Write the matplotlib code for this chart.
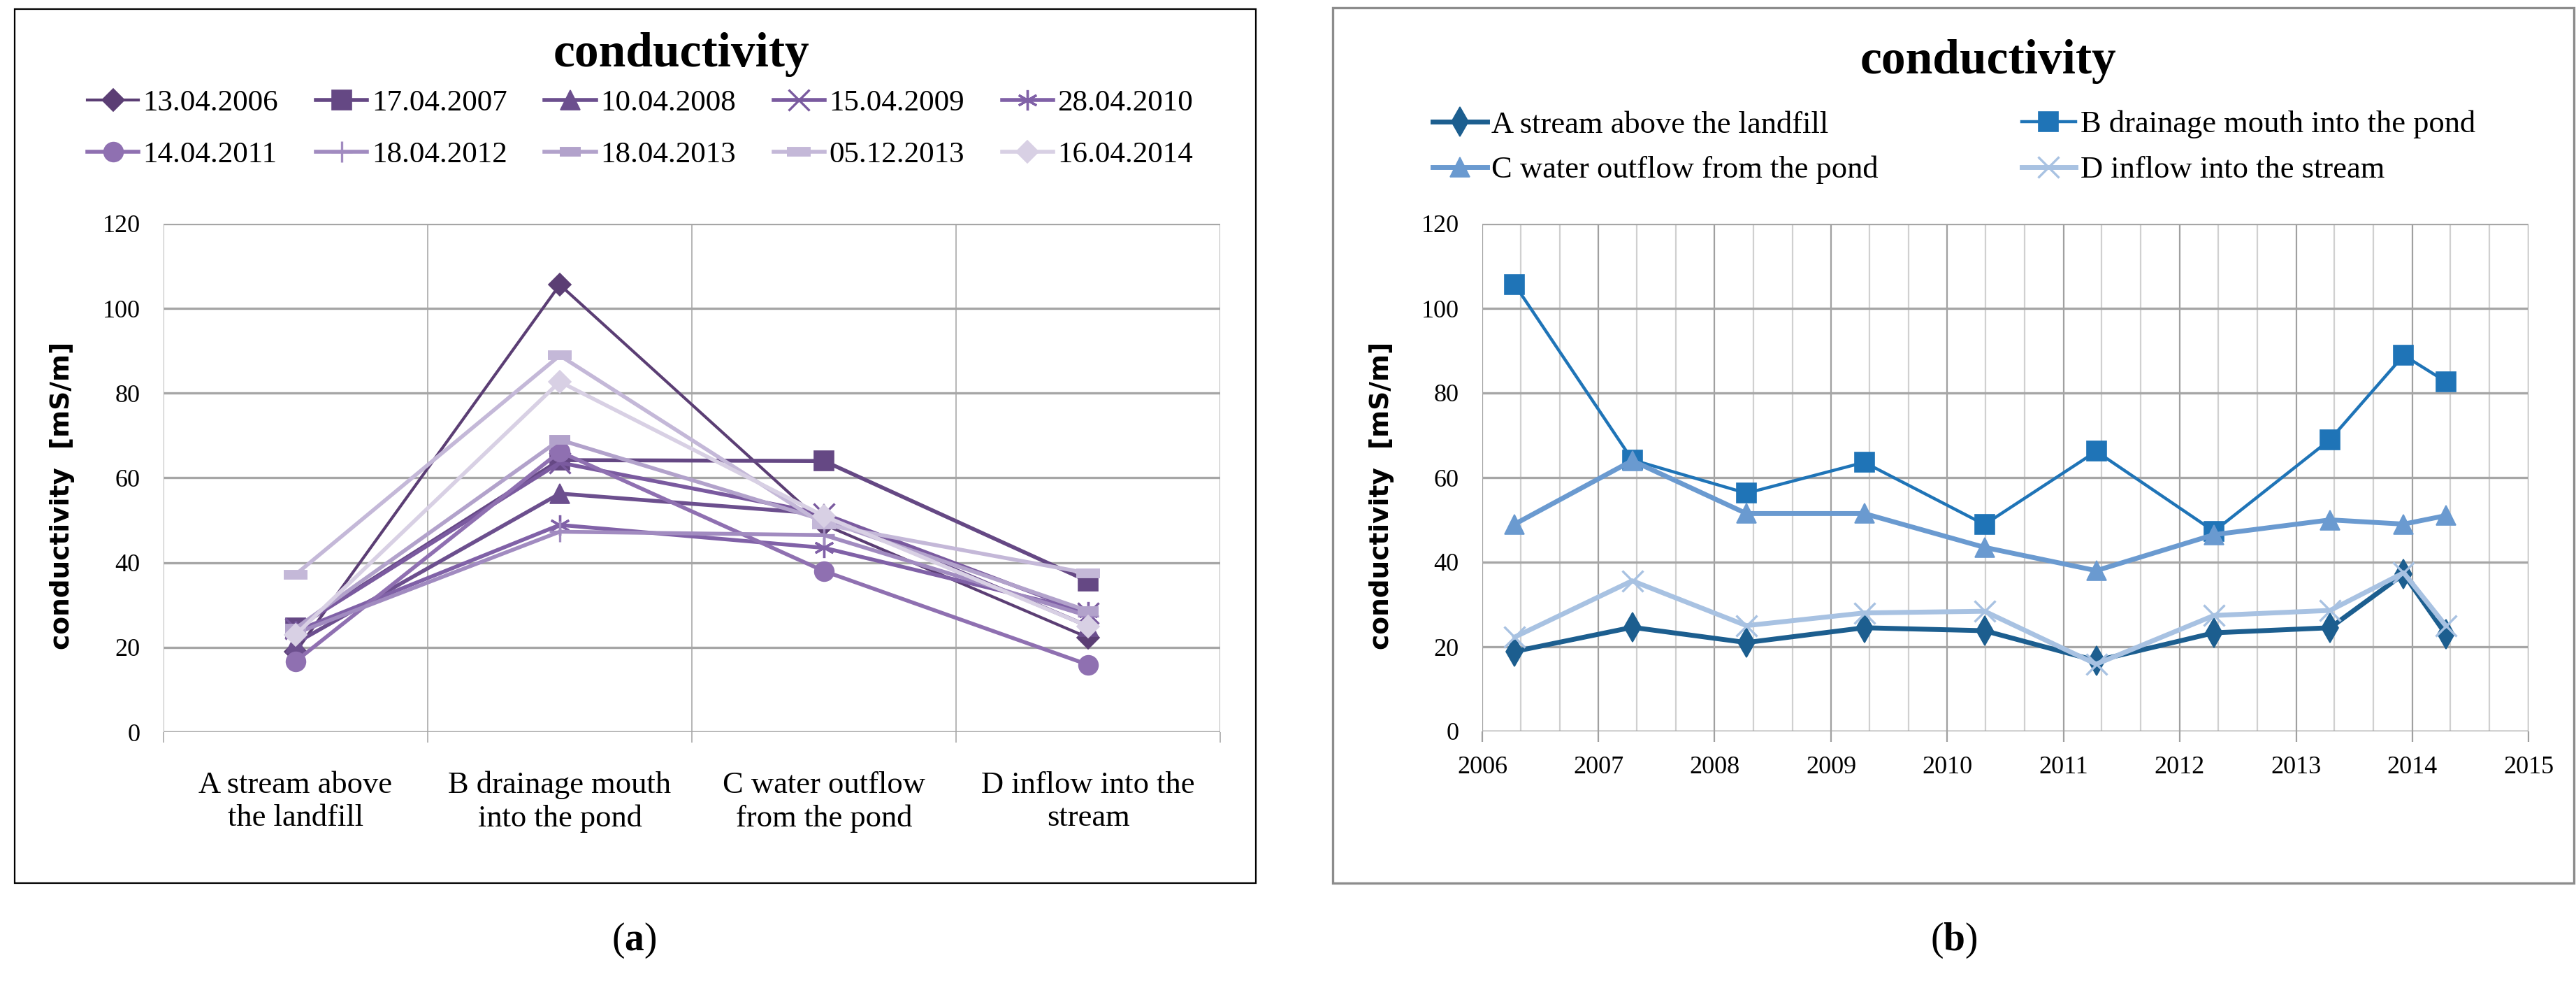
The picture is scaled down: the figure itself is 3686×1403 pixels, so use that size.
import matplotlib
matplotlib.use('Agg')
import matplotlib.pyplot as plt
import matplotlib.dates as mdates
import pandas as pd
from matplotlib.patches import Rectangle

# sampling dates and conductivity [mS/m] per site
dates = ['13.04.2006', '17.04.2007', '10.04.2008', '15.04.2009', '28.04.2010',
         '14.04.2011', '18.04.2012', '18.04.2013', '05.12.2013', '16.04.2014']
site_a = [18.9, 24.6, 21.0, 24.5, 23.8, 16.7, 23.3, 24.5, 37.2, 23.0]
site_b = [105.6, 64.2, 56.3, 63.6, 48.9, 66.2, 47.3, 69.0, 88.9, 82.7]
site_c = [49.0, 64.0, 51.5, 51.5, 43.5, 38.0, 46.5, 50.0, 49.0, 51.0]
site_d = [22.3, 35.6, 25.0, 28.0, 28.4, 15.9, 27.4, 28.6, 37.5, 25.0]

sites = ['A stream above the landfill', 'B drainage mouth into the pond',
         'C water outflow from the pond', 'D inflow into the stream']
cat_labels = ['A stream above\nthe landfill', 'B drainage mouth\ninto the pond',
              'C water outflow\nfrom the pond', 'D inflow into the\nstream']

purples = ['#5b3e74', '#654884', '#6c4f8e', '#7a5a9f', '#8061a7',
           '#8f70b1', '#a18bc0', '#b2a2cb', '#c4b8d8', '#d8d0e4']
date_markers = ['D', 's', '^', 'x', (6, 2, 0), 'o', '+', '_', '_', 'D']
blues = ['#1c5e8f', '#1f74b7', '#6a9ad0', '#a8c2e2']
site_markers = ['d', 's', '^', 'x']

SERIF = 'Liberation Serif'
plt.rcParams['font.family'] = SERIF
plt.rcParams['mathtext.fontset'] = 'custom'
plt.rcParams['mathtext.rm'] = SERIF
plt.rcParams['mathtext.bf'] = SERIF + ':bold'

W, H = 3686, 1403
fig = plt.figure(figsize=(W / 100, H / 100), dpi=100)


def fx(px):
    return px / W


def fy(py):
    return 1 - py / H


def row_major(handles, labels, ncol):
    # matplotlib fills legend columns first, Excel fills rows first
    nrow = -(-len(handles) // ncol)
    order = [r * ncol + c for c in range(ncol) for r in range(nrow)
             if r * ncol + c < len(handles)]
    return [handles[k] for k in order], [labels[k] for k in order]


# panel frames
fig.patches.append(Rectangle((fx(21), fy(1263)), fx(1776), 1250 / H,
                             transform=fig.transFigure, fill=False,
                             edgecolor='black', linewidth=1.6))
fig.patches.append(Rectangle((fx(1907), fy(1263)), fx(1776), 1252 / H,
                             transform=fig.transFigure, fill=False,
                             edgecolor='#8c8c8c', linewidth=2.4))

ax1 = fig.add_axes([fx(234), fy(1047), fx(1746 - 234), 727 / H])
ax2 = fig.add_axes([fx(2121), fy(1046), fx(3618 - 2121), 726 / H])

grid_gray = '#a6a6a6'


def style_y(ax):
    ax.set_ylim(0, 120)
    ax.set_yticks(range(0, 121, 20))
    ax.yaxis.grid(True, color=grid_gray, linewidth=2.4)
    for s in ax.spines.values():
        s.set_visible(False)
    ax.tick_params(axis='y', length=0, pad=24, labelsize=26)
    ax.set_ylabel('conductivity  [mS/m]', family='DejaVu Sans',
                  fontweight='bold', fontsize=27)
    ax.yaxis.set_label_coords(-0.084, 0.465)
    ax.set_axisbelow(True)


# ---- panel (a): profiles along the sites, one line per date
x_sites = list(range(len(sites)))
for i, d in enumerate(dates):
    vals = [site_a[i], site_b[i], site_c[i], site_d[i]]
    m = date_markers[i]
    kw = dict(markersize=20, markeredgewidth=1.2)
    if m in ('x', '+') or isinstance(m, tuple):
        kw = dict(markersize=21, markeredgewidth=2.4)
    if m == '_':
        kw = dict(markersize=21 if i == 7 else 25, markeredgewidth=10)
    if m == 'D':
        kw = dict(markersize=16, markeredgewidth=1.2)
    ax1.plot(x_sites, vals, color=purples[i], marker=m,
             linewidth=3.0 if i == 0 else 4.0, label=d, **kw)

style_y(ax1)
ax1.set_xlim(-0.5, len(sites) - 0.5)
ax1.set_xticks(x_sites)
ax1.set_xticklabels(cat_labels, fontsize=32, linespacing=1.25)
ax1.set_xticks([k - 0.5 for k in range(len(sites) + 1)], minor=True)
ax1.xaxis.grid(True, which='minor', color='#b0b0b0', linewidth=1.3)
ax1.tick_params(axis='x', which='major', length=0, pad=40)
ax1.tick_params(axis='x', which='minor', length=11, width=1.3,
                color='#b0b0b0', direction='out')
ax1.axhline(0, color=grid_gray, linewidth=2.4, zorder=1)

h1, l1 = row_major(*ax1.get_legend_handles_labels(), 5)
ax1.legend(h1, l1, loc='upper left', bbox_to_anchor=(fx(125), fy(128)),
           bbox_transform=fig.transFigure, ncol=5, frameon=False,
           fontsize=31, handlelength=1.7, handletextpad=0.15,
           columnspacing=1.25, labelspacing=0.8, borderpad=0,
           borderaxespad=0)

fig.text(fx(975), fy(78), 'conductivity', ha='center', va='center',
         fontsize=50, fontweight='bold')

# ---- panel (b): time series, one line per site
t = pd.to_datetime(dates, format='%d.%m.%Y')
series = [site_a, site_b, site_c, site_d]
for j, name in enumerate(sites):
    m = site_markers[j]
    if m == 'x':
        kw = dict(markersize=21, markeredgewidth=2.4)
    elif m == 'd':
        kw = dict(markersize=21, markeredgewidth=1.2)
    else:
        kw = dict(markersize=20, markeredgewidth=1.2)
    ax2.plot(t, series[j], color=blues[j], marker=m,
             linewidth=3.2 if j == 1 else 5.0, label=name, **kw)

style_y(ax2)
ax2.set_xlim(pd.Timestamp('2006-01-01'), pd.Timestamp('2015-01-01'))
ax2.xaxis.set_major_locator(mdates.YearLocator())
ax2.xaxis.set_major_formatter(mdates.DateFormatter('%Y'))
ax2.xaxis.set_minor_locator(mdates.MonthLocator(bymonth=[5, 9]))
ax2.xaxis.grid(True, which='major', color='#a0a0a0', linewidth=1.6)
ax2.xaxis.grid(True, which='minor', color='#d0d0d0', linewidth=1.6)
ax2.tick_params(axis='x', which='major', length=11, width=1.6,
                color='#a0a0a0', direction='out', pad=14, labelsize=26)
ax2.tick_params(axis='x', which='minor', length=0)
ax2.axhline(0, color=grid_gray, linewidth=2.4, zorder=1)

h2, l2 = row_major(*ax2.get_legend_handles_labels(), 2)
ax2.legend(h2, l2, loc='upper left', bbox_to_anchor=(fx(2050), fy(158)),
           bbox_transform=fig.transFigure, ncol=2, frameon=False,
           fontsize=32, handlelength=1.75, handletextpad=0.15,
           columnspacing=4.6, labelspacing=0.55, borderpad=0,
           borderaxespad=0)

fig.text(fx(2845), fy(88), 'conductivity', ha='center', va='center',
         fontsize=50, fontweight='bold')

# panel letters
fig.text(fx(907), fy(1345), r'($\mathbf{a}$)', ha='center', va='center', fontsize=40)
fig.text(fx(2796), fy(1345), r'($\mathbf{b}$)', ha='center', va='center', fontsize=40)

fig.savefig('out.png', dpi=100)
